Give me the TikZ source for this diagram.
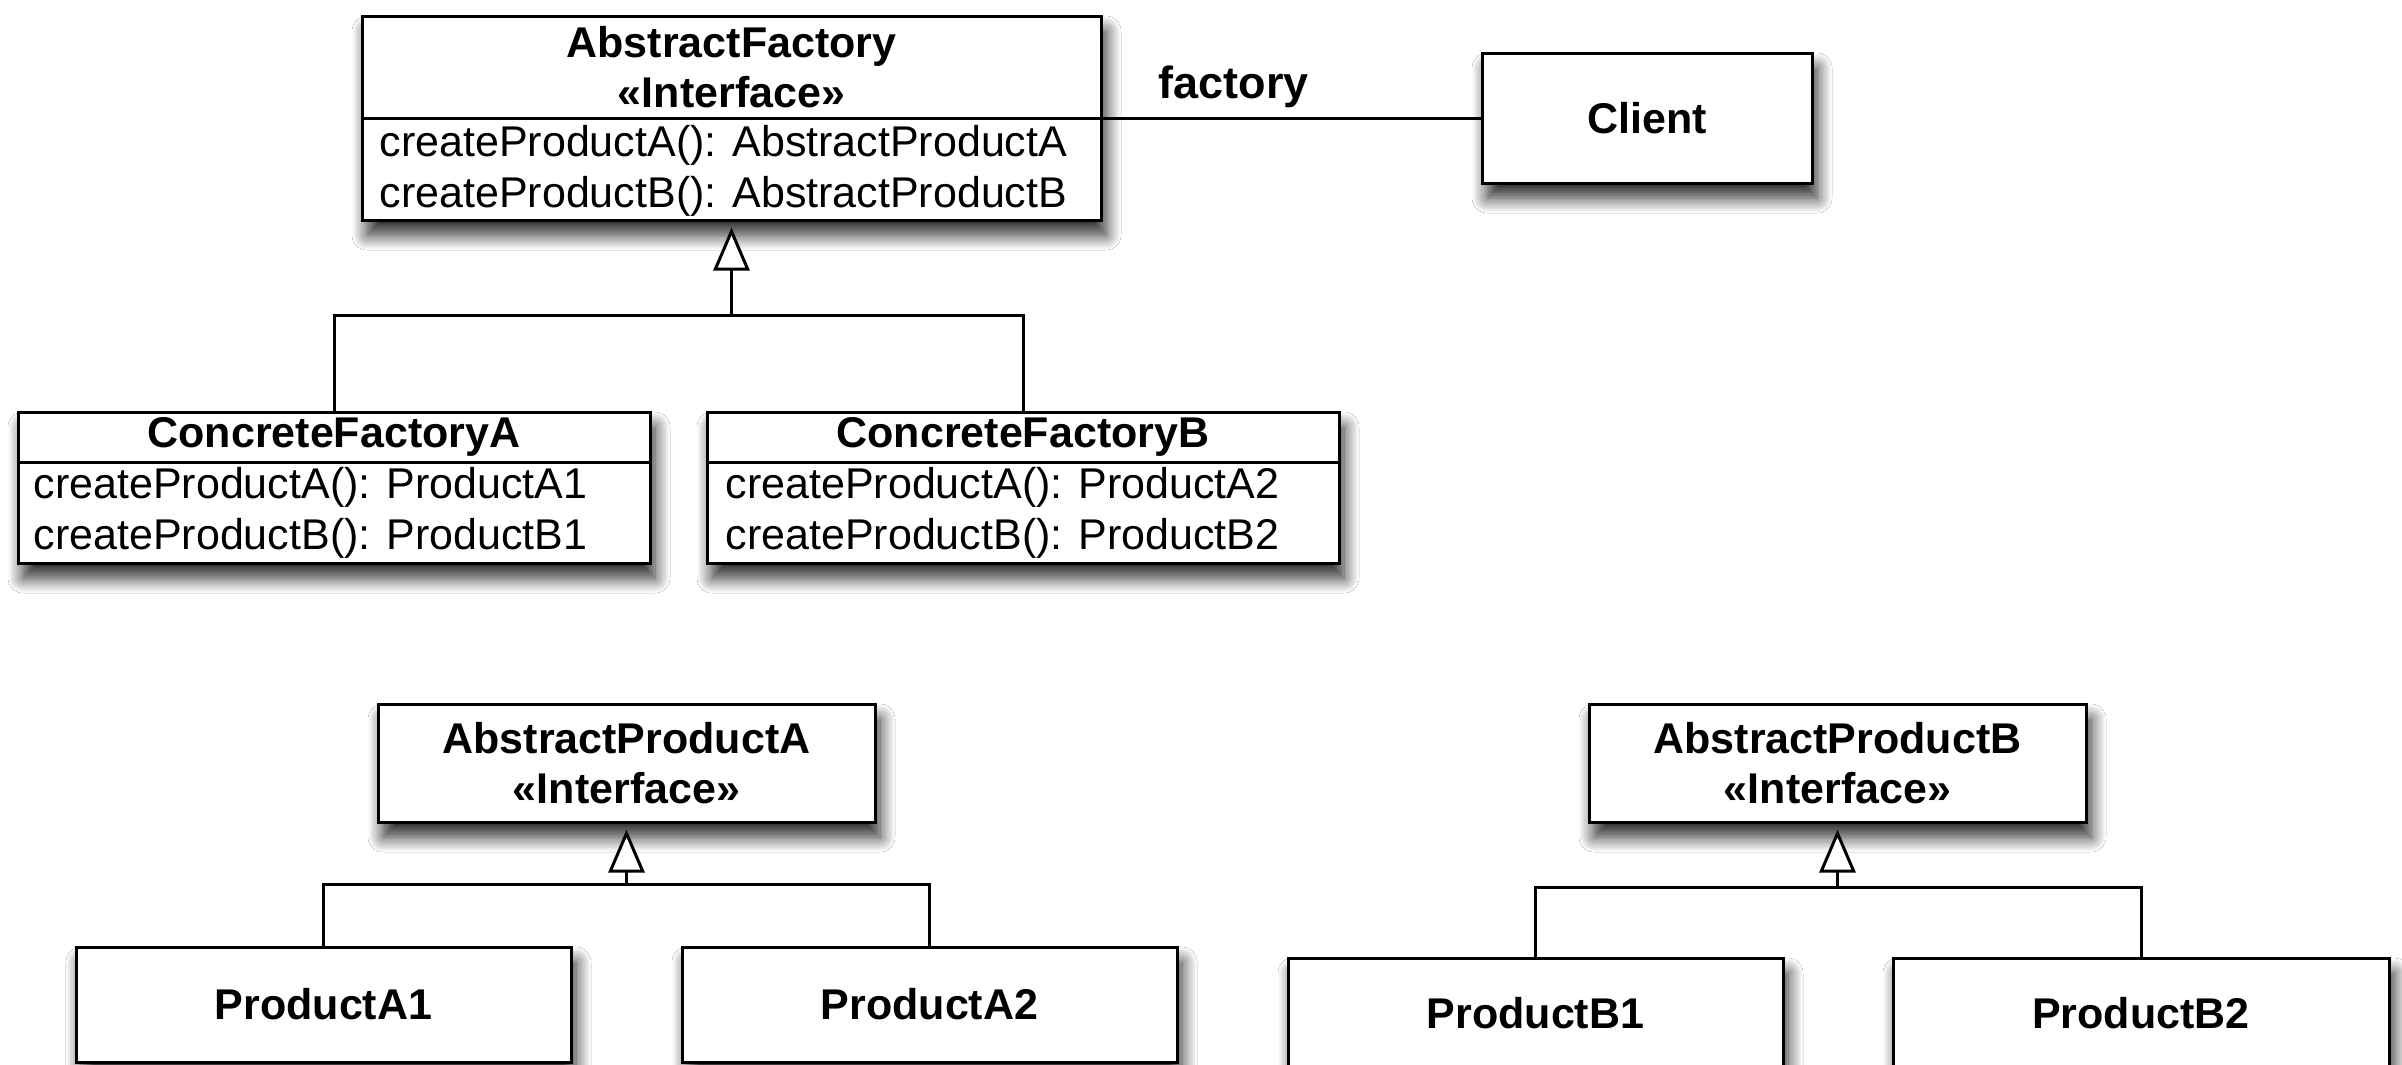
\documentclass[tikz,border=0pt]{standalone}
\usepackage{fontspec}
\setmainfont{Liberation Sans}
\usetikzlibrary{arrows.meta,shadows.blur}
\tikzset{
  umlbox/.style={draw=black, line width=0.9pt, fill=white, inner sep=0pt,
    blur shadow={shadow xshift=1.5pt, shadow yshift=-4.5pt, shadow blur radius=4.5pt, shadow opacity=85, shadow blur steps=12}},
  titletxt/.style={font=\fontsize{12.9}{15}\selectfont\bfseries, align=center, inner sep=0pt},
  methtxt/.style={font=\fontsize{12.9}{15.3}\selectfont, align=left, inner sep=0pt, anchor=west},
  conn/.style={line width=0.9pt, draw=black},
  inherit/.style={conn, -{Triangle[fill=white, length=12.9pt, width=10.8pt, line width=0.9pt]}, shorten >=1.8pt},
}
\begin{document}
\begin{tikzpicture}[x=0.3pt, y=-0.3pt]
\useasboundingbox (0,0) rectangle (2402,1065);
\fill[white] (0,0) rectangle (2402,1065);
\clip (0,0) rectangle (2402,1065);

% boxes
\node[umlbox, minimum width=739*0.3pt, minimum height=204*0.3pt] (af) at (731.5,118) {};
\node[umlbox, minimum width=330*0.3pt, minimum height=130*0.3pt, titletxt] (client) at (1647,118) {Client};
\node[umlbox, minimum width=632*0.3pt, minimum height=151*0.3pt] (cfa) at (334,487.5) {};
\node[umlbox, minimum width=632*0.3pt, minimum height=151*0.3pt] (cfb) at (1023,487.5) {};
\node[umlbox, minimum width=497*0.3pt, minimum height=118*0.3pt, titletxt] (apa) at (626.5,763) {AbstractProductA\\«Interface»};
\node[umlbox, minimum width=497*0.3pt, minimum height=118*0.3pt, titletxt] (apb) at (1837.5,763) {AbstractProductB\\«Interface»};
\node[umlbox, minimum width=495*0.3pt, minimum height=115*0.3pt, titletxt] (pa1) at (323.5,1004.5) {ProductA1};
\node[umlbox, minimum width=495*0.3pt, minimum height=115*0.3pt, titletxt] (pa2) at (929.5,1004.5) {ProductA2};
\node[umlbox, minimum width=495*0.3pt, minimum height=110*0.3pt, titletxt] (pb1) at (1535.5,1013) {ProductB1};
\node[umlbox, minimum width=496*0.3pt, minimum height=110*0.3pt, titletxt] (pb2) at (2141,1013) {ProductB2};

% dividers
\draw[conn] (af.west) -- (af.east);
\draw[conn] (cfa.west |- 0,462) -- (cfa.east |- 0,462);
\draw[conn] (cfb.west |- 0,462) -- (cfb.east |- 0,462);

% texts
\node[titletxt] (aft) at (731.5,67) {AbstractFactory\\«Interface»};
\node[methtxt] (afm) at (379,171) {createProductA(): AbstractProductA\\createProductB(): AbstractProductB};
\node[titletxt] (cfat) at (334,437) {ConcreteFactoryA};
\node[methtxt] (cfam) at (33,512.5) {createProductA(): ProductA1\\createProductB(): ProductB1};
\node[titletxt] (cfbt) at (1023,437) {ConcreteFactoryB};
\node[methtxt] (cfbm) at (725,512.5) {createProductA(): ProductA2\\createProductB(): ProductB2};

% association
\draw[conn] (af.east) -- (client.west);
\node[font=\fontsize{13.5}{16}\selectfont\bfseries, anchor=base west, inner sep=0pt] (flbl) at (1158,98) {factory};

% generalizations
\coordinate (bus1) at (731.5,315);
\draw[conn] (cfa.north) |- (bus1) -| (cfb.north);
\draw[inherit] (bus1) -- (af.south);

\coordinate (bus2) at (626.5,884);
\draw[conn] (pa1.north) |- (bus2) -| (pa2.north);
\draw[inherit] (bus2) -- (apa.south);

\coordinate (bus3) at (1837.5,887);
\draw[conn] (pb1.north) |- (bus3) -| (pb2.north);
\draw[inherit] (bus3) -- (apb.south);
\end{tikzpicture}
\end{document}
